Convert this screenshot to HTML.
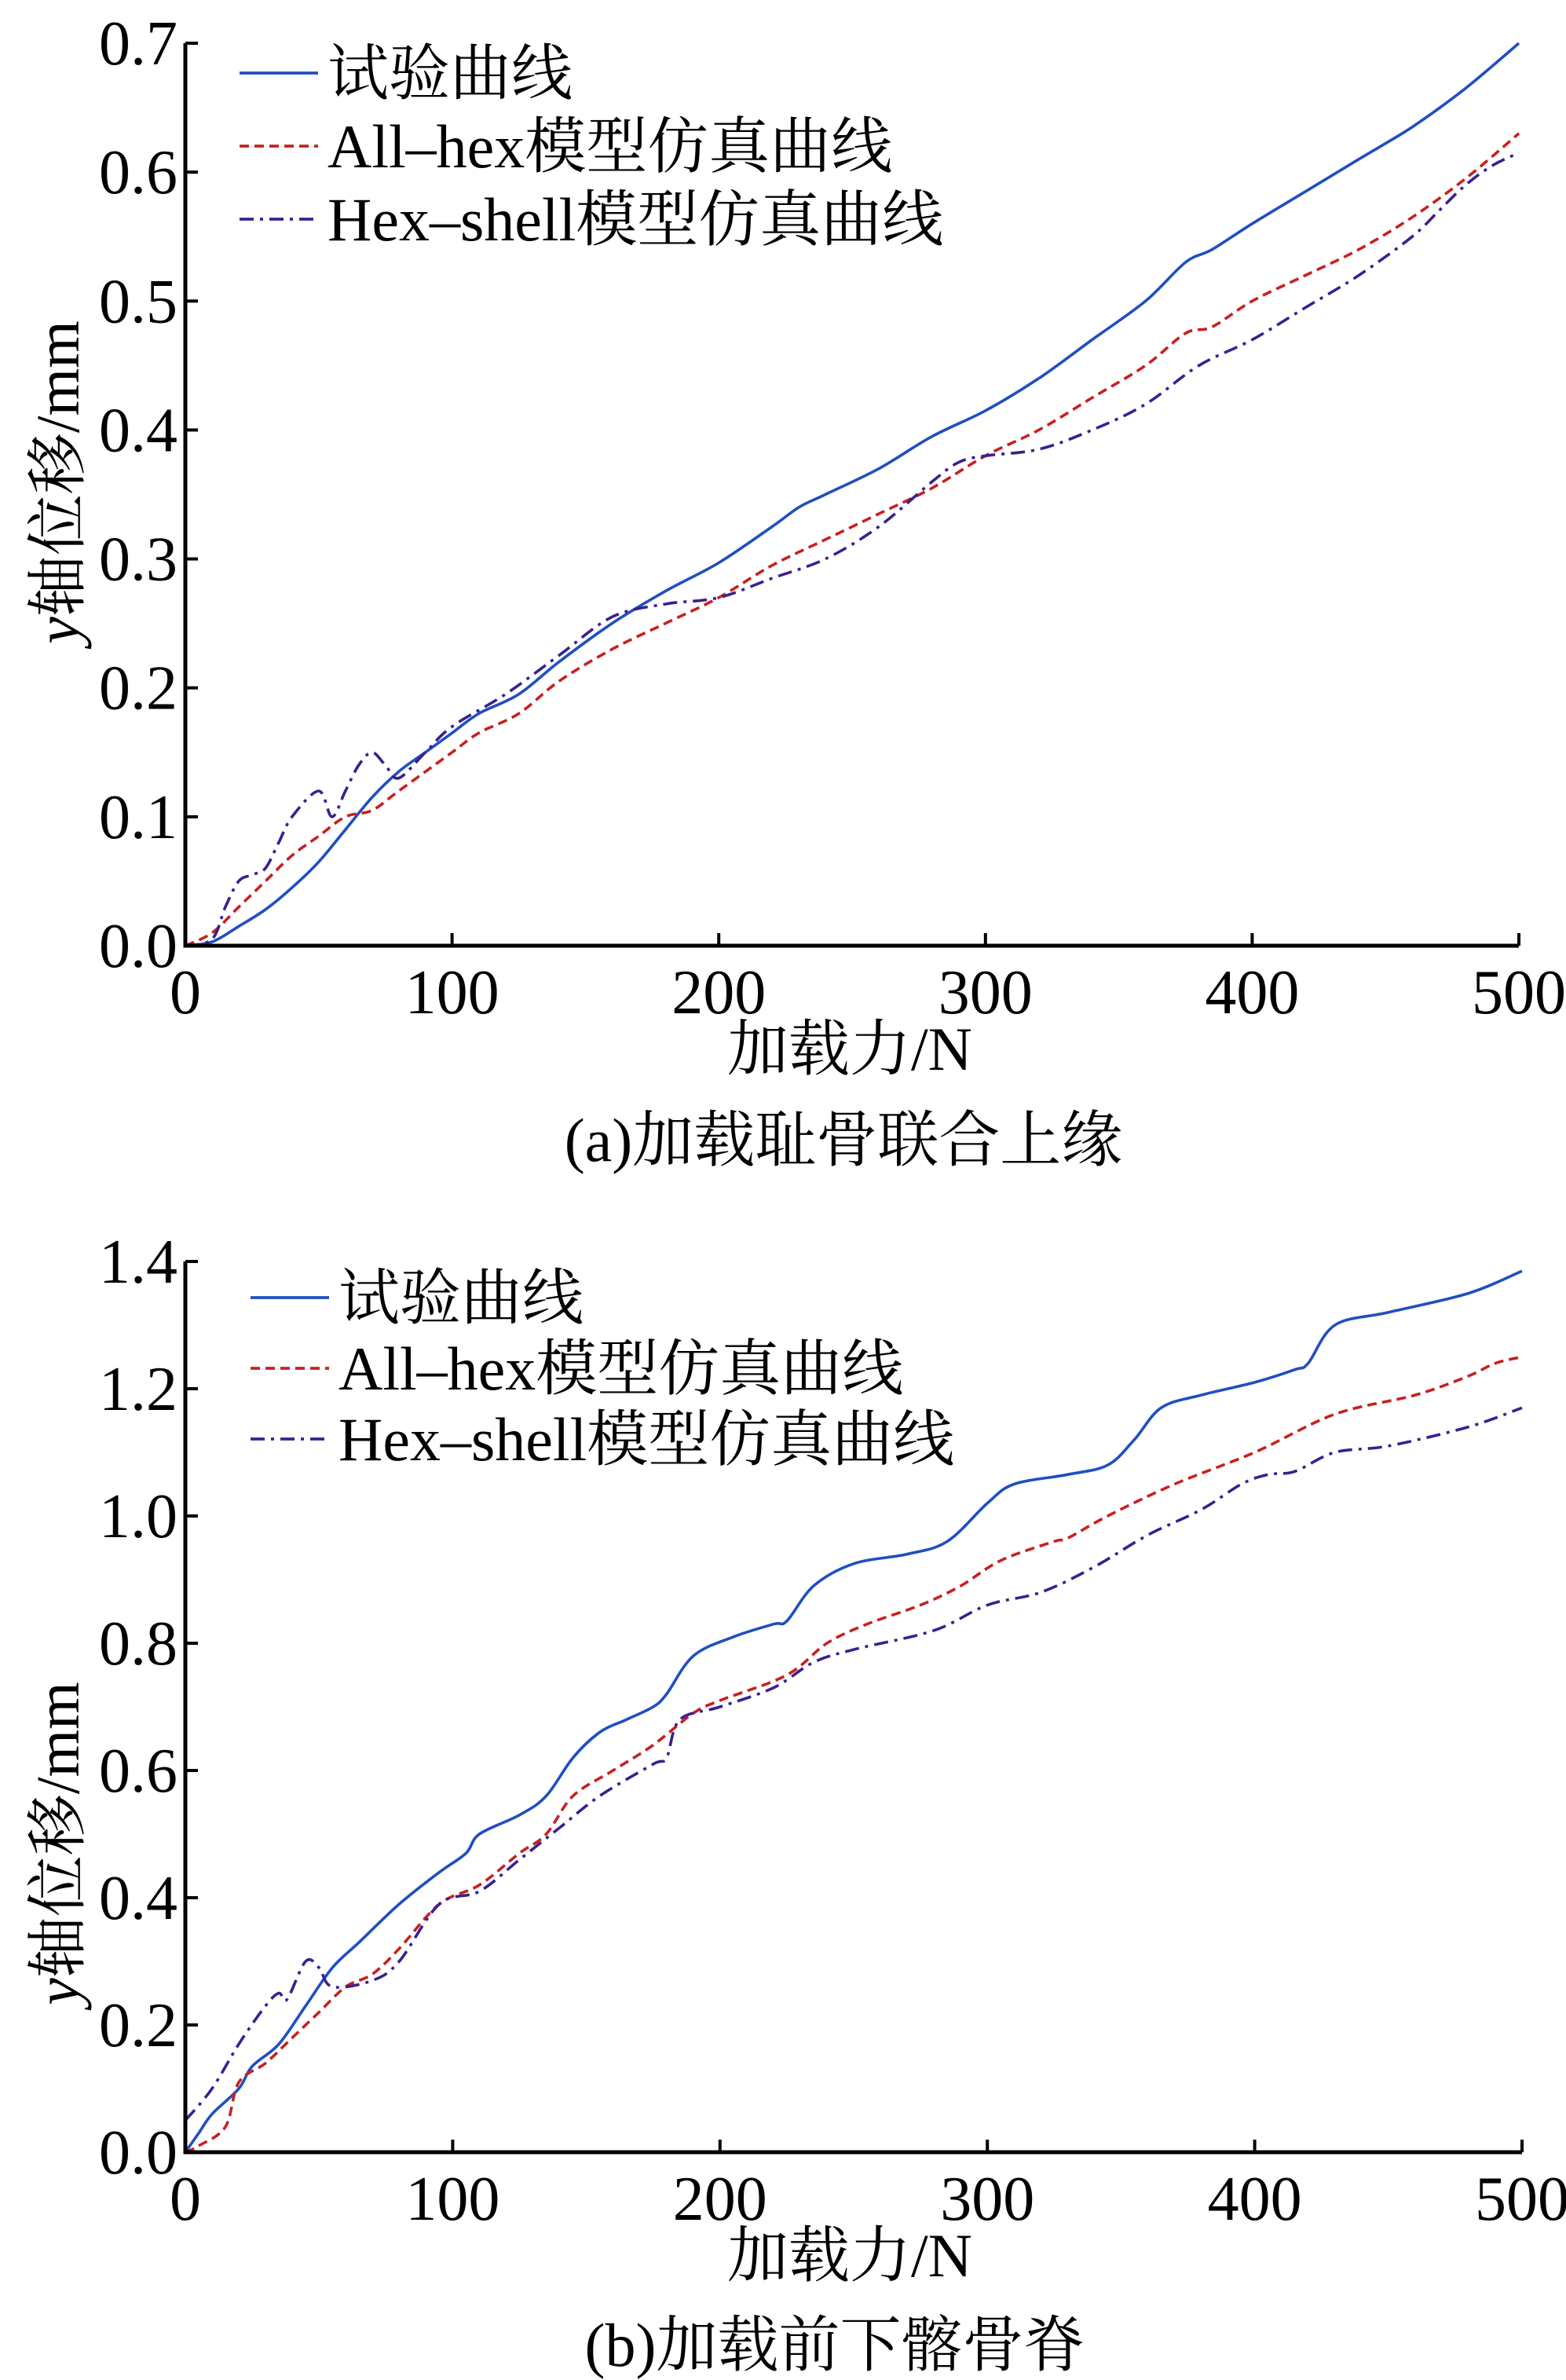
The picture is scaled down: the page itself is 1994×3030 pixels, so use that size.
<!DOCTYPE html>
<html><head><meta charset="utf-8">
<style>
html,body{margin:0;padding:0;background:#fff;}
svg{display:block;}
text{font-family:"Liberation Serif","Noto Serif CJK SC","Noto Sans CJK SC",serif;fill:#000;}
</style></head>
<body>
<svg id="fig" width="1994" height="3030" viewBox="0 0 1994 3030" xmlns="http://www.w3.org/2000/svg"></svg>
<script>
const xTicks = [0,100,200,300,400,500];
const yTicksA = [0.0,0.1,0.2,0.3,0.4,0.5,0.6,0.7];
const yTicksB = [0.0,0.2,0.4,0.6,0.8,1.0,1.2,1.4];
const seriesNames = ["试验曲线","All–hex模型仿真曲线","Hex–shell模型仿真曲线"];

const aTestX = [0,10,20,30,40,50,60,70,80,90,100,110,125,140,160,180,200,220,230,240,260,280,300,320,340,360,375,385,400,420,440,460,480,500];
const aTestY = [0,0.003,0.015,0.028,0.045,0.065,0.09,0.115,0.135,0.15,0.165,0.18,0.195,0.22,0.25,0.275,0.297,0.325,0.34,0.35,0.37,0.395,0.415,0.44,0.47,0.5,0.53,0.54,0.56,0.585,0.61,0.635,0.665,0.70];
const aHexX = [0,10,20,30,40,50,60,70,80,100,110,125,140,160,180,200,220,240,260,280,300,320,340,360,375,385,400,420,440,460,480,500];
const aHexY = [0,0.01,0.03,0.05,0.07,0.085,0.1,0.105,0.12,0.15,0.165,0.18,0.205,0.23,0.25,0.27,0.295,0.315,0.335,0.355,0.38,0.4,0.425,0.45,0.475,0.48,0.5,0.52,0.54,0.565,0.595,0.63];
const aShellX = [0,10,15,20,25,30,35,40,50,55,60,65,70,75,80,90,100,120,140,160,180,200,220,240,260,280,290,300,320,340,360,380,400,420,440,460,470,480,490,500];
const aShellY = [0,0.005,0.03,0.05,0.055,0.06,0.08,0.1,0.12,0.1,0.12,0.14,0.15,0.14,0.13,0.15,0.17,0.195,0.225,0.255,0.265,0.27,0.285,0.3,0.325,0.36,0.375,0.38,0.385,0.4,0.42,0.45,0.47,0.495,0.52,0.55,0.57,0.59,0.605,0.615];

const bTestX = [0,5,10,20,25,35,45,55,65,80,95,105,110,125,135,145,155,165,175,180,190,205,220,225,235,250,270,285,300,310,330,345,355,365,380,400,415,420,430,450,480,500];
const bTestY = [0,0.03,0.06,0.1,0.135,0.17,0.23,0.29,0.33,0.39,0.44,0.47,0.5,0.53,0.56,0.62,0.66,0.68,0.7,0.72,0.78,0.81,0.83,0.835,0.89,0.925,0.94,0.96,1.02,1.05,1.065,1.08,1.12,1.17,1.19,1.21,1.23,1.24,1.3,1.32,1.35,1.385];
const bHexX = [0,5,15,20,30,40,50,60,70,80,95,110,125,135,145,160,175,190,200,225,240,255,275,290,305,325,330,345,370,400,430,460,480,490,500];
const bHexY = [0,0.01,0.04,0.11,0.14,0.18,0.22,0.26,0.28,0.32,0.39,0.42,0.47,0.5,0.56,0.6,0.64,0.69,0.71,0.75,0.8,0.83,0.86,0.89,0.93,0.96,0.965,1.0,1.05,1.1,1.16,1.19,1.22,1.24,1.25];
const bShellX = [0,10,20,30,35,38,45,50,55,70,80,95,110,125,140,155,175,180,185,200,220,235,250,280,300,320,340,360,380,395,405,415,430,450,480,500];
const bShellY = [0.05,0.1,0.17,0.23,0.25,0.24,0.3,0.29,0.26,0.27,0.3,0.39,0.41,0.46,0.51,0.56,0.61,0.62,0.68,0.7,0.73,0.77,0.79,0.82,0.86,0.88,0.92,0.97,1.01,1.05,1.065,1.07,1.1,1.11,1.14,1.17];

const NS = "http://www.w3.org/2000/svg";
const svg = document.getElementById('fig');
function mk(tag, attrs, parent, txt){
  const e = document.createElementNS(NS, tag);
  for (const k in attrs) e.setAttribute(k, attrs[k]);
  if (txt !== undefined) e.textContent = txt;
  (parent||svg).appendChild(e);
  return e;
}
const colors = ["#1f4fc0","#c82020","#3a2090"];
const dashes = ["none","12,7","18,8,4,8"];

function smooth(pts){
  let d = 'M' + pts[0][0].toFixed(1) + ' ' + pts[0][1].toFixed(1);
  for (let i = 0; i < pts.length - 1; i++){
    const p0 = pts[i-1] || pts[i], p1 = pts[i], p2 = pts[i+1], p3 = pts[i+2] || p2;
    const c1x = p1[0] + (p2[0]-p0[0])/6, c1y = p1[1] + (p2[1]-p0[1])/6;
    const c2x = p2[0] - (p3[0]-p1[0])/6, c2y = p2[1] - (p3[1]-p1[1])/6;
    d += ` C${c1x.toFixed(1)} ${c1y.toFixed(1)} ${c2x.toFixed(1)} ${c2y.toFixed(1)} ${p2[0].toFixed(1)} ${p2[1].toFixed(1)}`;
  }
  return d;
}

function panel(cfg){
  const g = mk('g',{});
  
  
  const X = v => cfg.x0 + v / 500 * (cfg.x1 - cfg.x0);
  const Y = v => cfg.y0 - v / cfg.ymax * (cfg.y0 - cfg.y1);
  cfg.series.forEach((s, i) => {
    const pts = s[0].map((xv, j) => [X(xv), Y(s[1][j])]);
    const p = mk('path',{d:smooth(pts), fill:'none', stroke:colors[i], 'stroke-width':3.6, 'stroke-dasharray':dashes[i], 'stroke-linejoin':'round'}, g);
    
    
  });
  const ax = mk('path',{d:`M${cfg.x0} ${cfg.y1} L${cfg.x0} ${cfg.y0} L${cfg.x1} ${cfg.y0}`, fill:'none', stroke:'#000','stroke-width':5}, g);
  
  
  xTicks.forEach(t => {
    mk('line',{x1:X(t),x2:X(t),y1:cfg.y0,y2:cfg.y0-16,stroke:'#000','stroke-width':4}, g);
    const tl = mk('text',{x:X(t), y:cfg.y0+86, 'font-size':80, 'text-anchor':'middle'}, g, String(t));
    
    
  });
  cfg.yTicks.forEach(t => {
    mk('line',{x1:cfg.x0,x2:cfg.x0+16,y1:Y(t),y2:Y(t),stroke:'#000','stroke-width':4}, g);
    const tl = mk('text',{x:cfg.x0-10, y:Y(t)+27, 'font-size':80, 'text-anchor':'end'}, g, t.toFixed(1));
    
    
  });
  const xt = mk('text',{x:1082, y:cfg.y0+158, 'font-size':78, 'text-anchor':'middle'}, g, '加载力/N');
  
  
  const yt = mk('text',{x:0, y:0, 'font-size':78, 'text-anchor':'middle', transform:`translate(100 ${cfg.ytitleY}) rotate(-90)`}, g);
  
  
  mk('tspan',{'font-style':'italic'}, yt, 'y');
  mk('tspan',{}, yt, '轴位移/mm');
  const cap = mk('text',{x:cfg.capX, y:cfg.capY, 'font-size':78, 'text-anchor':'middle'}, g, cfg.caption);
  
  
  seriesNames.forEach((n, i) => {
    const ly = cfg.legY + i * cfg.legStep;
    const le = mk('g',{}, g);
    
    
    mk('line',{x1:cfg.legX, x2:cfg.legX+100, y1:ly, y2:ly, stroke:colors[i], 'stroke-width':3.8, 'stroke-dasharray':dashes[i]}, le);
    mk('text',{x:cfg.legX+112, y:ly+27, 'font-size':78}, le, n);
  });
}

panel({id:'panel-a', x0:236, x1:1934, y0:1204, y1:55, ymax:0.7, yTicks:yTicksA,
  series:[[aTestX,aTestY],[aHexX,aHexY],[aShellX,aShellY]],
  ytitleY:614, caption:'(a)加载耻骨联合上缘', capX:1074, capY:1478,
  legX:305, legY:93, legStep:93});
panel({id:'panel-b', x0:236, x1:1938, y0:2740, y1:1606, ymax:1.4, yTicks:yTicksB,
  series:[[bTestX,bTestY],[bHexX,bHexY],[bShellX,bShellY]],
  ytitleY:2347, caption:'(b)加载前下髂骨脊', capX:1063, capY:3012,
  legX:319, legY:1652, legStep:90});
</script>
</body></html>
